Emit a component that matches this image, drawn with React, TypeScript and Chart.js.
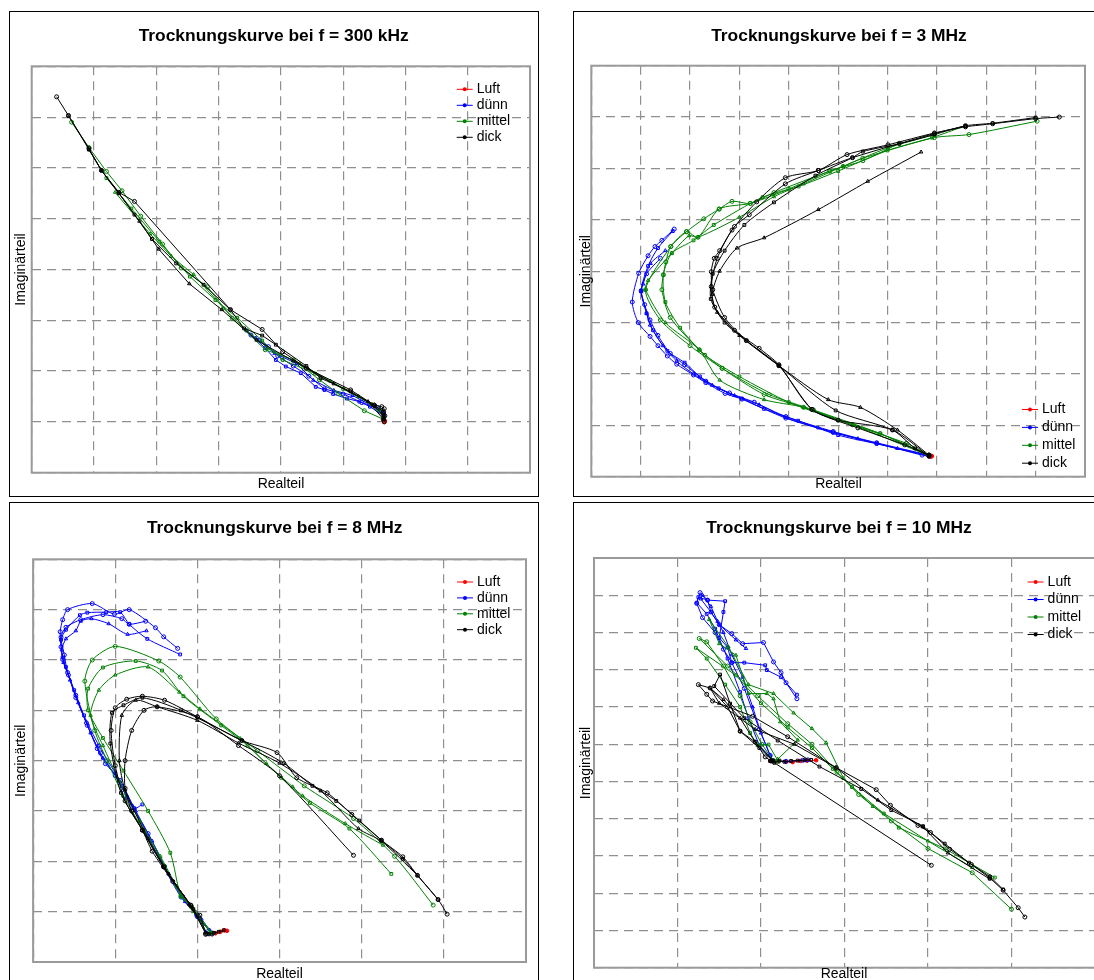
import React, { useEffect, useRef } from "react";
import { Chart, registerables } from "chart.js";

Chart.register(...registerables);

type Pt = [number, number];
type Runs = Pt[][];

const SERIES_NAMES = ["Luft", "dünn", "mittel", "dick"];
const SERIES_COLORS = ["#ff0000", "#0000ff", "#008000", "#000000"];
const X_LABEL = "Realteil";
const Y_LABEL = "Imaginärteil";
const TITLES = [
  "Trocknungskurve bei f = 300 kHz",
  "Trocknungskurve bei f = 3 MHz",
  "Trocknungskurve bei f = 8 MHz",
  "Trocknungskurve bei f = 10 MHz",
];
const X_DIVISIONS = [8, 10, 6, 6];
const Y_DIVISIONS = [8, 8, 8, 11];

// ---------- Panel 1: 300 kHz ----------
const P1_LUFT: Runs = [[[5.64, 1.04], [5.66, 1.0], [5.65, 1.06], [5.67, 1.02]]];
const P1_DUENN: Runs = [
  [[3.52, 2.71], [3.66, 2.61], [3.8, 2.48], [3.95, 2.3], [4.2, 2.1], [4.45, 1.9], [4.7, 1.65], [5.0, 1.55], [5.3, 1.38], [5.55, 1.28], [5.65, 1.15]],
  [[3.45, 2.8], [3.75, 2.45], [3.92, 2.22], [4.08, 2.09], [4.32, 1.96], [4.56, 1.69], [4.7, 1.63], [4.84, 1.55], [5.06, 1.46], [5.26, 1.4], [5.43, 1.3], [5.65, 1.12]],
  [[3.6, 2.65], [3.9, 2.35], [4.25, 2.15], [4.52, 1.82], [4.85, 1.62], [5.15, 1.52], [5.45, 1.33], [5.65, 1.18]],
];
const P1_MITTEL: Runs = [
  [[0.64, 6.9], [0.92, 6.4], [1.2, 5.93], [1.45, 5.55], [1.75, 5.05], [2.1, 4.5], [2.4, 4.03], [2.82, 3.66], [3.22, 3.04], [3.75, 2.42], [4.2, 2.22], [4.62, 1.83], [4.92, 1.56], [5.34, 1.22], [5.65, 1.05]],
  [[1.2, 5.8], [1.6, 5.2], [2.05, 4.55], [2.54, 3.86], [2.95, 3.4], [3.3, 3.05], [3.7, 2.6], [4.03, 2.22], [4.55, 1.95], [5.0, 1.65], [5.45, 1.35], [5.65, 1.1]],
  [[1.34, 5.52], [1.9, 4.7], [2.24, 4.26], [2.6, 3.9], [3.08, 3.24], [3.44, 2.81], [3.8, 2.45], [4.3, 2.15], [4.8, 1.8], [5.25, 1.5], [5.6, 1.25], [5.65, 1.08]],
];
const P1_DICK: Runs = [
  [[0.4, 7.4], [0.59, 7.03], [0.92, 6.38], [1.12, 5.95], [1.4, 5.52], [1.65, 5.34], [3.19, 3.21], [3.7, 2.82], [4.03, 2.38], [4.41, 2.06], [5.12, 1.63], [5.5, 1.33], [5.65, 1.2]],
  [[0.59, 7.03], [0.92, 6.36], [1.12, 5.95], [1.4, 5.5], [1.65, 5.08], [1.93, 4.6], [2.32, 4.12], [2.76, 3.7], [3.19, 3.21], [3.41, 2.84], [3.7, 2.7], [3.92, 2.52], [4.41, 2.1], [4.64, 1.86], [5.12, 1.6], [5.5, 1.32], [5.65, 1.12]],
  [[0.92, 6.36], [1.12, 5.95], [1.4, 5.5], [1.73, 4.95], [2.04, 4.4], [2.53, 3.72], [3.05, 3.21], [3.61, 2.61], [4.2, 2.2], [4.85, 1.75], [5.4, 1.4], [5.65, 1.05]],
  [[5.5, 1.33], [5.62, 1.3], [5.66, 1.26], [5.64, 1.18], [5.67, 1.12], [5.65, 1.06], [5.66, 1.0]],
];

// ---------- Panel 2: 3 MHz ----------
const P2_LUFT: Runs = [[[6.84, 0.4], [6.88, 0.39], [6.86, 0.42], [6.9, 0.4]]];
const P2_DUENN: Runs = [
  [[1.68, 4.82], [1.43, 4.6], [1.29, 4.48], [1.15, 4.3], [0.96, 3.96], [0.83, 3.4], [0.95, 3.0], [1.19, 2.73], [1.35, 2.55], [1.54, 2.35], [1.73, 2.19], [2.07, 1.98], [2.32, 1.83], [2.71, 1.62], [3.05, 1.51], [3.94, 1.14], [4.9, 0.86], [5.78, 0.65], [6.7, 0.42], [6.84, 0.4]],
  [[1.65, 4.78], [1.35, 4.45], [1.15, 4.1], [1.01, 3.62], [1.12, 3.18], [1.25, 2.85], [1.54, 2.45], [1.89, 2.22], [2.2, 1.95], [2.58, 1.72], [3.05, 1.52], [3.5, 1.32], [4.19, 1.09], [5.0, 0.81], [5.78, 0.64], [6.84, 0.41]],
  [[1.5, 4.4], [1.2, 4.15], [1.05, 3.75], [1.01, 3.6], [1.12, 3.18], [1.19, 2.95], [1.45, 2.55], [1.73, 2.25], [2.07, 2.0], [2.45, 1.78], [2.9, 1.58], [3.4, 1.4], [3.94, 1.15], [4.6, 0.95], [5.4, 0.74], [6.2, 0.55], [6.84, 0.4]],
  [[1.4, 4.25], [1.12, 3.95], [1.01, 3.62], [1.08, 3.35], [1.19, 3.05], [1.35, 2.75], [1.6, 2.4], [1.89, 2.18], [2.32, 1.86], [2.8, 1.63], [3.3, 1.45], [3.94, 1.17], [4.9, 0.88], [5.78, 0.66], [6.84, 0.42]],
];
const P2_MITTEL: Runs = [
  [[9.03, 6.92], [7.65, 6.66], [6.95, 6.6], [5.5, 6.2], [5.1, 6.04], [4.83, 5.95], [3.7, 5.53], [3.22, 5.32], [2.85, 5.36], [2.59, 5.21], [2.28, 5.02], [1.93, 4.77], [1.61, 4.48], [1.51, 4.18], [1.46, 3.93], [1.43, 3.64], [1.6, 3.1], [2.19, 2.47], [2.65, 2.11], [3.5, 1.6], [4.3, 1.35], [5.29, 1.01], [6.38, 0.65], [6.84, 0.42]],
  [[7.58, 6.83], [6.9, 6.6], [6.0, 6.35], [5.0, 5.95], [4.2, 5.65], [3.47, 5.44], [2.48, 4.9], [2.07, 4.6], [1.63, 4.35], [1.46, 3.93], [1.5, 3.4], [1.8, 2.9], [2.3, 2.37], [3.0, 1.95], [4.0, 1.45], [5.0, 1.1], [5.85, 0.84], [6.84, 0.4]],
  [[6.95, 6.66], [6.01, 6.4], [5.1, 6.04], [4.3, 5.7], [3.7, 5.45], [3.0, 5.05], [2.16, 4.66], [1.98, 4.69], [1.63, 4.35], [1.15, 3.82], [1.1, 3.64], [1.5, 3.0], [2.19, 2.47], [2.6, 1.88], [3.5, 1.5], [4.3, 1.35], [5.29, 1.01], [6.84, 0.41]],
  [[6.24, 6.49], [5.5, 6.15], [4.83, 5.95], [4.0, 5.6], [3.22, 5.32], [2.59, 5.21], [2.16, 4.66], [1.93, 4.77], [1.61, 4.48], [1.1, 3.64], [1.4, 3.05], [2.0, 2.55], [2.65, 2.11], [3.6, 1.6], [4.5, 1.3], [5.85, 0.84], [6.84, 0.42]],
];
const P2_DICK: Runs = [
  [[9.48, 7.0], [9.0, 6.97], [8.13, 6.87], [7.58, 6.81], [6.95, 6.69], [6.01, 6.46], [5.18, 6.27], [4.6, 5.96], [3.93, 5.82], [3.35, 5.35], [2.85, 4.8], [2.55, 4.25], [2.43, 3.7], [2.5, 3.3], [2.9, 2.85], [3.4, 2.5], [3.8, 2.18], [4.47, 1.31], [5.4, 0.95], [6.35, 0.62], [6.84, 0.42]],
  [[9.0, 6.99], [8.13, 6.88], [7.58, 6.83], [6.95, 6.66], [6.24, 6.48], [5.5, 6.33], [5.29, 6.21], [4.54, 5.86], [3.7, 5.34], [3.1, 4.9], [2.7, 4.4], [2.46, 3.95], [2.42, 3.46], [2.7, 3.0], [3.14, 2.65], [3.8, 2.16], [4.95, 1.29], [6.1, 0.91], [6.56, 0.55], [6.84, 0.4]],
  [[6.68, 6.32], [5.6, 5.75], [4.6, 5.2], [3.5, 4.65], [2.95, 4.45], [2.6, 4.0], [2.45, 3.55], [2.55, 3.2], [3.0, 2.75], [3.8, 2.16], [4.8, 1.5], [5.45, 1.35], [6.2, 0.91], [6.84, 0.42]],
  [[7.58, 6.83], [6.95, 6.68], [5.29, 6.21], [4.6, 5.96], [3.93, 5.7], [3.2, 5.1], [2.9, 4.87], [2.6, 4.4], [2.49, 4.25], [2.43, 3.99], [2.46, 3.64], [2.7, 3.1], [3.14, 2.65], [3.8, 2.16], [4.47, 1.31], [5.0, 1.1], [6.1, 0.91], [6.84, 0.4]],
];

// ---------- Panel 3: 8 MHz ----------
const P3_LUFT: Runs = [[[2.18, 0.55], [2.22, 0.57], [2.28, 0.6], [2.33, 0.63], [2.36, 0.62]]];
const P3_DUENN: Runs = [
  [[1.76, 6.23], [1.59, 6.46], [1.49, 6.64], [1.17, 7.0], [0.99, 6.91], [0.72, 7.12], [0.42, 7.0], [0.36, 6.8], [0.33, 6.56], [0.34, 6.26], [0.36, 6.01], [0.43, 5.7], [0.52, 5.25], [0.65, 4.75], [0.78, 4.24], [0.88, 3.94], [1.06, 3.61], [1.23, 3.05], [1.59, 1.89], [1.8, 1.29], [1.99, 0.93], [2.14, 0.63], [2.18, 0.56]],
  [[1.79, 6.11], [1.39, 6.42], [1.17, 6.71], [1.06, 6.95], [0.89, 6.95], [0.66, 6.94], [0.57, 6.89], [0.4, 6.6], [0.34, 6.4], [0.36, 6.05], [0.4, 5.86], [0.5, 5.4], [0.62, 4.9], [0.8, 4.3], [1.0, 3.75], [1.14, 3.28], [1.23, 3.05], [1.33, 3.13]],
  [[1.38, 6.58], [1.15, 6.51], [0.92, 6.72], [0.71, 6.82], [0.58, 6.77], [0.52, 6.58], [0.4, 6.42], [0.35, 6.2], [0.37, 5.95], [0.45, 5.6], [0.55, 5.15], [0.7, 4.55], [0.85, 4.05], [1.05, 3.6], [1.25, 3.0], [1.45, 2.4], [1.65, 1.75], [1.85, 1.2], [2.05, 0.85], [2.18, 0.57]],
  [[1.37, 6.77], [1.17, 6.71], [1.08, 6.82], [0.85, 6.9], [0.58, 6.8], [0.4, 6.65], [0.34, 6.45], [0.38, 6.1], [0.42, 5.75], [0.52, 5.3], [0.66, 4.7], [0.82, 4.15], [1.0, 3.7], [1.2, 3.1], [1.4, 2.55], [1.6, 1.9], [1.82, 1.3], [2.0, 0.9], [2.17, 0.58]],
];
const P3_MITTEL: Runs = [
  [[2.18, 0.57], [1.93, 1.09], [1.8, 1.32], [1.6, 1.9], [1.35, 2.6], [1.1, 3.3], [0.9, 4.0], [0.75, 4.6], [0.63, 5.58], [0.72, 6.0], [1.0, 6.27], [1.53, 5.98], [1.79, 5.66], [2.23, 4.83], [2.73, 4.2], [3.3, 3.5], [3.9, 2.85], [4.4, 2.1], [4.87, 1.13]],
  [[2.16, 0.58], [1.93, 1.1], [1.8, 1.3], [1.67, 2.17], [1.4, 3.0], [1.1, 3.8], [0.85, 4.45], [0.67, 5.0], [0.67, 5.43], [0.85, 5.85], [1.25, 5.98], [1.57, 5.79], [1.83, 5.28], [2.29, 4.7], [2.61, 4.3], [3.02, 3.66], [3.37, 3.16], [3.85, 2.65], [4.36, 1.75]],
  [[2.17, 0.57], [1.95, 1.0], [1.75, 1.5], [1.55, 2.1], [1.3, 2.8], [1.05, 3.6], [0.85, 4.3], [0.7, 4.9], [0.8, 5.4], [1.0, 5.7], [1.4, 5.86], [1.78, 5.36], [2.03, 5.03], [2.52, 4.44], [2.84, 3.94], [3.16, 3.48], [3.28, 3.3], [3.8, 2.75], [4.26, 2.32]],
];
const P3_DICK: Runs = [
  [[2.1, 0.55], [2.03, 0.93], [1.92, 1.13], [1.59, 1.89], [1.33, 2.62], [1.12, 3.2], [1.0, 3.9], [0.95, 4.6], [1.0, 5.05], [1.14, 5.22], [1.33, 5.28], [1.6, 5.2], [2.0, 4.87], [2.54, 4.4], [2.97, 4.16], [3.21, 3.66], [3.58, 3.36], [3.88, 2.93], [4.24, 2.42], [4.5, 2.09], [4.68, 1.72], [4.93, 1.24], [5.04, 0.95]],
  [[2.12, 0.56], [1.95, 1.05], [1.59, 1.89], [1.33, 2.62], [1.07, 3.36], [0.94, 4.34], [0.96, 4.95], [1.1, 5.1], [1.33, 5.25], [1.8, 5.0], [2.54, 4.4], [3.05, 3.95], [3.4, 3.5], [3.69, 3.2], [3.97, 2.81], [4.24, 2.42], [4.5, 2.05], [4.93, 1.24]],
  [[2.1, 0.58], [1.9, 1.15], [1.65, 1.75], [1.4, 2.45], [1.12, 3.42], [1.05, 4.0], [1.08, 4.9], [1.25, 5.2], [1.51, 5.07], [2.0, 4.8], [2.5, 4.35], [3.0, 3.95], [3.5, 3.4], [3.96, 2.65], [4.24, 2.4], [4.68, 1.72]],
  [[2.1, 0.57], [1.92, 1.12], [1.7, 1.6], [1.45, 2.2], [1.33, 2.62], [1.2, 3.0], [1.12, 3.45], [1.12, 4.0], [1.2, 4.6], [1.35, 5.0], [1.51, 5.07], [2.0, 4.87], [2.5, 4.3], [3.0, 3.7], [3.9, 2.12]],
  [[2.14, 0.55], [2.2, 0.58], [2.26, 0.6], [2.32, 0.63]],
];

// ---------- Panel 4: 10 MHz ----------
const P4_LUFT: Runs = [[[2.11, 5.55], [2.2, 5.54], [2.3, 5.53], [2.38, 5.52], [2.47, 5.55], [2.55, 5.56], [2.66, 5.57]]];
const P4_DUENN: Runs = [
  [[2.43, 7.22], [2.3, 7.65], [2.24, 7.92], [2.15, 8.21], [2.03, 8.73], [1.78, 8.7], [1.65, 8.97], [1.5, 9.21], [1.4, 9.55], [1.36, 9.87], [1.27, 10.07], [1.23, 9.78], [1.3, 9.4], [1.45, 9.0], [1.55, 8.55], [1.65, 8.19], [1.8, 7.5], [1.98, 6.4], [2.11, 5.7], [2.15, 5.55]],
  [[2.43, 7.33], [2.24, 7.8], [2.07, 7.99], [2.05, 8.12], [1.8, 8.19], [1.65, 8.19], [1.6, 8.6], [1.5, 8.86], [1.55, 9.55], [1.57, 9.84], [1.36, 9.87], [1.25, 9.95], [1.23, 9.8], [1.35, 9.5], [1.45, 9.1], [1.6, 8.3], [1.75, 7.4], [1.85, 6.7], [1.98, 5.97], [2.15, 5.56]],
  [[1.82, 8.57], [1.7, 8.8], [1.5, 9.21], [1.4, 9.55], [1.28, 9.9], [1.3, 10.0], [1.4, 9.7], [1.48, 9.3], [1.55, 9.0], [1.65, 8.4], [1.78, 7.8], [1.9, 7.0], [2.0, 6.3], [2.11, 5.7], [2.14, 5.55]],
  [[2.14, 5.55], [2.3, 5.54], [2.5, 5.57], [2.56, 5.58]],
];
const P4_MITTEL: Runs = [
  [[5.0, 1.57], [4.53, 2.55], [4.0, 3.2], [3.56, 3.94], [3.17, 4.65], [2.91, 5.25], [2.61, 6.0], [2.32, 6.55], [1.96, 7.3], [1.6, 8.1], [1.26, 8.84], [1.35, 8.75], [1.55, 8.1], [1.75, 7.3], [1.87, 6.6], [2.01, 6.0], [2.15, 5.55]],
  [[4.8, 2.42], [4.2, 3.2], [3.65, 3.76], [3.47, 4.14], [3.09, 4.85], [2.86, 5.34], [2.61, 5.9], [2.32, 6.45], [2.0, 7.1], [1.7, 7.85], [1.22, 8.59], [1.35, 8.3], [1.57, 7.6], [1.75, 7.0], [1.87, 6.3], [1.96, 5.97], [2.09, 5.99], [2.21, 5.53], [2.15, 5.55]],
  [[4.53, 2.69], [4.0, 3.4], [3.34, 4.33], [2.99, 5.08], [2.78, 6.04], [2.61, 6.42], [2.39, 6.84], [2.15, 7.36], [1.85, 7.6], [1.61, 8.61], [1.38, 9.35], [1.5, 8.7], [1.7, 8.39], [1.85, 7.36], [2.07, 7.36], [2.15, 7.22], [2.23, 6.6], [2.44, 6.11], [2.2, 5.6], [2.15, 5.55]],
];
const P4_DICK: Runs = [
  [[5.16, 1.36], [5.08, 1.61], [4.9, 2.08], [4.74, 2.41], [4.52, 2.77], [4.26, 3.18], [4.03, 3.63], [3.88, 3.82], [3.55, 4.36], [3.38, 4.78], [2.9, 5.37], [2.32, 6.2], [1.9, 6.75], [1.42, 7.16], [1.35, 7.34], [1.25, 7.6], [1.39, 7.51], [1.6, 7.0], [1.75, 6.35], [1.93, 6.06], [2.05, 5.66], [2.12, 5.55]],
  [[4.9, 2.1], [4.74, 2.45], [4.49, 2.82], [4.2, 3.33], [3.94, 3.8], [3.56, 4.23], [3.2, 4.8], [2.7, 5.4], [2.2, 6.1], [1.8, 6.7], [1.44, 7.56], [1.51, 7.87], [1.63, 7.09], [1.75, 6.35], [1.98, 5.9], [2.14, 5.56]],
  [[4.74, 2.38], [4.24, 3.08], [3.94, 3.78], [3.4, 4.5], [2.9, 5.37], [2.4, 6.0], [1.93, 6.4], [1.5, 7.1], [1.39, 7.51], [1.55, 7.2], [1.75, 6.7], [1.93, 6.06], [2.15, 5.55]],
  [[2.12, 5.56], [4.04, 2.75]],
  [[2.11, 5.55], [2.16, 5.5], [2.22, 5.56], [2.28, 5.53], [2.36, 5.55], [2.44, 5.56], [2.52, 5.57], [2.6, 5.58]],
];

const PANEL_SERIES: Runs[][] = [
  [P1_LUFT, P1_DUENN, P1_MITTEL, P1_DICK],
  [P2_LUFT, P2_DUENN, P2_MITTEL, P2_DICK],
  [P3_LUFT, P3_DUENN, P3_MITTEL, P3_DICK],
  [P4_LUFT, P4_DUENN, P4_MITTEL, P4_DICK],
];

const FONT = '"Liberation Sans", Arial, Helvetica, sans-serif';
const MARKERS = ["circle", "rect", "triangle", "circle", "rect"];

interface PanelLayout {
  left: number;
  top: number;
  w: number;
  h: number;
  pad: [number, number, number, number];
  title: [number, number];
  xl: [number, number];
  yl: [number, number];
  leg: [number, number, number];
  tension: number;
}

const LAYOUTS: PanelLayout[] = [
  { left: 9, top: 11, w: 530, h: 486, pad: [21.7, 54.3, 8, 23.3], title: [263.7, 24], xl: [271, 472], yl: [11.6, 257.5], leg: [446.7, 77.3, 16], tension: 0 },
  { left: 573, top: 11, w: 540, h: 486, pad: [17.3, 53.7, 27, 19.3], title: [265, 24], xl: [264.5, 472], yl: [12.5, 259.2], leg: [448, 397.5, 17.9], tension: 0.25 },
  { left: 9, top: 502, w: 530, h: 500, pad: [23.1, 56.3, 12, 39], title: [264.7, 25.7], xl: [269.5, 470.7], yl: [11.6, 257.7], leg: [447, 79, 15.9], tension: 0.25 },
  { left: 573, top: 502, w: 540, h: 500, pad: [20, 55, 17, 33.3], title: [265, 25.7], xl: [270, 471.3], yl: [12, 260], leg: [453.6, 79, 17.5], tension: 0 },
];

function buildDatasets(groups: Runs[], tension: number) {
  const ds: any[] = [];
  for (let g = 3; g >= 0; g--) {
    const color = SERIES_COLORS[g];
    groups[g].forEach((run, r) => {
      ds.push({
        label: SERIES_NAMES[g],
        data: run.map(([x, y]) => ({ x, y })),
        showLine: true,
        borderColor: color,
        borderWidth: 1,
        tension,
        pointRadius: g === 0 ? 1.8 : 2,
        pointStyle: g === 0 ? "circle" : MARKERS[r % MARKERS.length],
        pointBorderColor: color,
        pointBackgroundColor: g === 0 ? color : "rgba(255,255,255,0)",
        pointBorderWidth: 1,
        clip: false,
      });
    });
  }
  return ds;
}

function makeDecor(idx: number) {
  const L = LAYOUTS[idx];
  return {
    id: "decor" + idx,
    beforeDatasetsDraw(chart: any) {
      const { ctx, chartArea: a } = chart;
      ctx.save();
      ctx.setLineDash([]);
      ctx.strokeStyle = "#9a9a9a";
      ctx.lineWidth = 2;
      ctx.strokeRect(a.left, a.top, a.right - a.left, a.bottom - a.top);
      ctx.restore();
    },
    afterDraw(chart: any) {
      const ctx = chart.ctx;
      ctx.save();
      ctx.setLineDash([]);
      ctx.fillStyle = "#000";
      ctx.textAlign = "center";
      ctx.textBaseline = "middle";
      ctx.font = `bold 17.4px ${FONT}`;
      ctx.fillText(TITLES[idx], L.title[0], L.title[1]);
      ctx.font = `14px ${FONT}`;
      ctx.fillText(X_LABEL, L.xl[0], L.xl[1]);
      ctx.save();
      ctx.translate(L.yl[0], L.yl[1]);
      ctx.rotate(-Math.PI / 2);
      ctx.fillText(Y_LABEL, 0, 0);
      ctx.restore();
      ctx.textAlign = "left";
      SERIES_NAMES.forEach((name, i) => {
        const x = L.leg[0];
        const y = L.leg[1] + i * L.leg[2];
        ctx.strokeStyle = SERIES_COLORS[i];
        ctx.lineWidth = 1;
        ctx.beginPath();
        ctx.moveTo(x, y);
        ctx.lineTo(x + 16, y);
        ctx.stroke();
        ctx.fillStyle = SERIES_COLORS[i];
        ctx.beginPath();
        ctx.arc(x + 8, y, 2, 0, Math.PI * 2);
        ctx.fill();
        ctx.fillStyle = "#000";
        ctx.fillText(name, x + 20, y);
      });
      ctx.restore();
    },
  };
}

function axis(n: number, horizontal: boolean) {
  return {
    type: "linear",
    min: 0,
    max: n,
    ticks: { display: false, stepSize: 1 },
    afterBuildTicks: (scale: any) => {
      scale.ticks = Array.from({ length: n + 1 }, (_, i) => ({ value: i }));
    },
    afterFit: (scale: any) => {
      if (horizontal) scale.height = 0;
      else scale.width = 0;
    },
    grid: { color: "#8f8f8f", lineWidth: 1.2, drawTicks: false },
    border: { display: false, dash: [9, 6] },
  };
}

function Panel({ idx }: { idx: number }) {
  const ref = useRef<HTMLCanvasElement>(null);
  const L = LAYOUTS[idx];
  const cw = L.w - 2;
  const ch = L.h - 2;
  useEffect(() => {
    const chart = new Chart(ref.current as HTMLCanvasElement, {
      type: "scatter",
      data: { datasets: buildDatasets(PANEL_SERIES[idx], L.tension) },
      options: {
        animation: false,
        responsive: false,
        maintainAspectRatio: false,
        devicePixelRatio: 1,
        events: [],
        layout: { padding: { left: L.pad[0], top: L.pad[1], right: L.pad[2], bottom: L.pad[3] } },
        plugins: { legend: { display: false }, tooltip: { enabled: false }, title: { display: false } },
        scales: { x: axis(X_DIVISIONS[idx], true) as any, y: axis(Y_DIVISIONS[idx], false) as any },
      },
      plugins: [makeDecor(idx)],
    });
    return () => chart.destroy();
  }, []);
  return (
    <div
      style={{
        position: "absolute",
        left: L.left,
        top: L.top,
        width: L.w,
        height: L.h,
        border: "1px solid #000",
        boxSizing: "border-box",
        overflow: "hidden",
        background: "#fff",
      }}
    >
      <canvas ref={ref} width={cw} height={ch} style={{ display: "block", width: cw, height: ch }} />
    </div>
  );
}

export default function App() {
  return (
    <div
      style={{
        position: "fixed",
        left: 0,
        top: 0,
        width: 1094,
        height: 980,
        overflow: "hidden",
        background: "#fff",
      }}
    >
      {[0, 1, 2, 3].map((i) => (
        <Panel key={i} idx={i} />
      ))}
    </div>
  );
}
